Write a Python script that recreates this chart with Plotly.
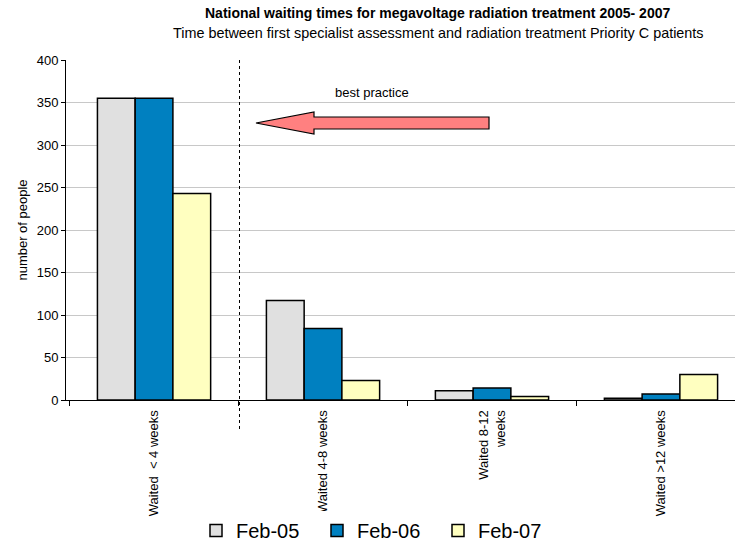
import plotly.graph_objects as go

categories = ["Waited  < 4 weeks", "Waited 4-8 weeks", "Waited 8-12<br>weeks", "Waited >12 weeks"]
series_names = ["Feb-05", "Feb-06", "Feb-07"]
feb05 = [355, 117, 11, 2]
feb06 = [355, 84, 14, 7]
feb07 = [243, 23, 4, 30]
colors = ["#E0E0E0", "#0080C0", "#FFFFC0"]
y_ticks = [0, 50, 100, 150, 200, 250, 300, 350, 400]

fig = go.Figure()
for name, vals, col in zip(series_names, [feb05, feb06, feb07], colors):
    fig.add_trace(go.Bar(
        x=categories, y=vals, name=name,
        marker=dict(color=col, line=dict(color="black", width=1.5)),
    ))

L, R, T, B = 66, 735, 60, 400

def px_x(p):
    return (p - L) / (R - L)

def px_y(p):
    return (B - p) / (B - T)

arrow_pts = [(256, 123), (314, 112), (314, 117), (489, 117), (489, 129), (314, 129), (314, 134)]
path = "M " + " L ".join(f"{px_x(a):.4f},{px_y(b):.4f}" for a, b in arrow_pts) + " Z"

fig.update_layout(
    width=735, height=544,
    margin=dict(l=L, r=735 - R, t=T, b=544 - B, autoexpand=False),
    paper_bgcolor="white", plot_bgcolor="white",
    font=dict(family="Arial, Liberation Sans, sans-serif", size=13, color="black"),
    barmode="group", bargap=0.33, bargroupgap=0,
    showlegend=True,
    legend=dict(orientation="h", x=px_x(196), xanchor="left", y=px_y(511), yanchor="top",
                font=dict(size=20), itemwidth=30, entrywidth=76, entrywidthmode="pixels",
                tracegroupgap=0),
    xaxis=dict(type="category", range=[-0.521, 3.438], tickangle=-90, showline=True,
               linecolor="black", linewidth=1, ticks="outside", tickson="boundaries",
               ticklen=5, tickcolor="black", showgrid=False, tickfont=dict(size=13),
               ticklabelstandoff=4, automargin=False),
    yaxis=dict(range=[0, 400], tickvals=y_ticks, showline=True, linecolor="black",
               linewidth=1, ticks="outside", ticklen=4, tickcolor="black",
               gridcolor="#C8C8C8", gridwidth=1, zeroline=False,
               title=dict(text="number of people", font=dict(size=13), standoff=6),
               tickfont=dict(size=13), automargin=False),
    shapes=[
        dict(type="line", xref="paper", yref="paper", x0=px_x(239.5), x1=px_x(239.5),
             y0=1.0, y1=px_y(432), line=dict(color="black", width=1, dash="dot")),
        dict(type="path", xref="paper", yref="paper", path=path,
             fillcolor="#FF8080", line=dict(color="black", width=1.2)),
    ],
    annotations=[
        dict(text="<b>National waiting times for megavoltage radiation treatment 2005- 2007</b>",
             xref="paper", yref="paper", x=px_x(437), y=px_y(13), showarrow=False,
             font=dict(size=14), xanchor="center", yanchor="middle"),
        dict(text="Time between first specialist assessment and radiation treatment Priority C patients",
             xref="paper", yref="paper", x=px_x(438), y=px_y(33), showarrow=False,
             font=dict(size=14.4), xanchor="center", yanchor="middle"),
        dict(text="best practice", xref="paper", yref="paper", x=px_x(372), y=px_y(92),
             showarrow=False, font=dict(size=13), xanchor="center", yanchor="middle"),
    ],
)

fig.write_html("out.html", config={"displayModeBar": False},
               post_script="document.body.style.margin='0';document.body.style.overflow='hidden';")
